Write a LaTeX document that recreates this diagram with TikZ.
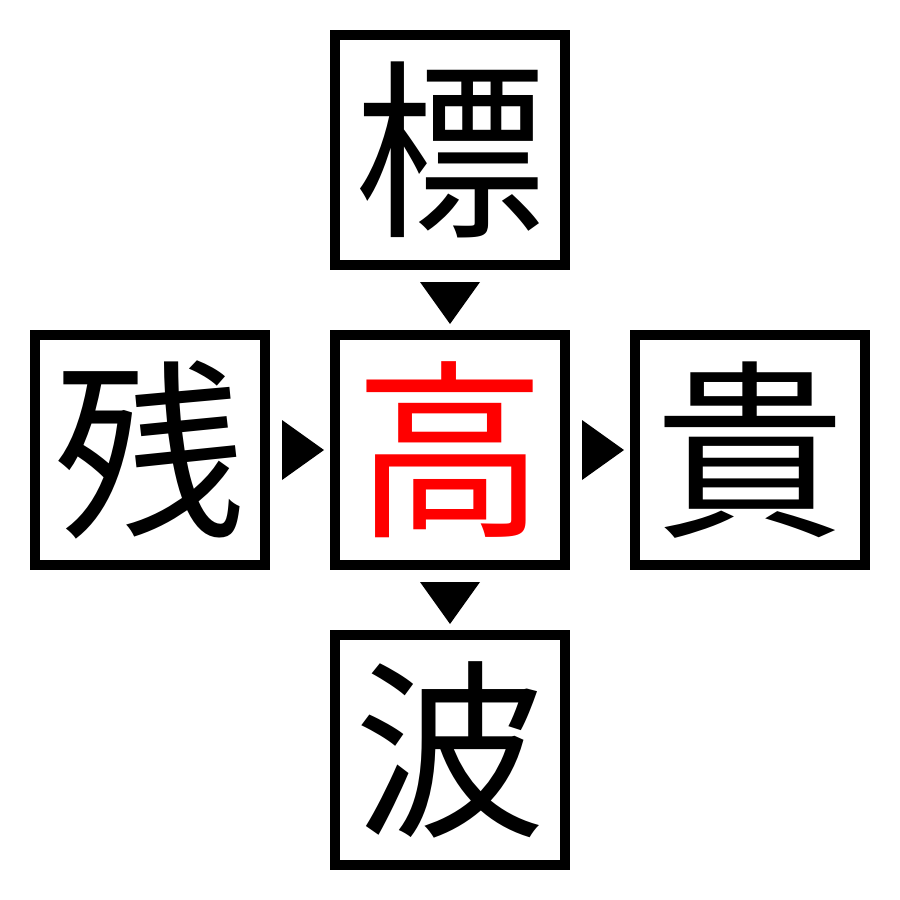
\documentclass[tikz,border=0pt]{standalone}
\usepackage{fontspec}
\newfontfamily\cjk{Noto Sans CJK JP}
\begin{document}
\begin{tikzpicture}[x=1bp,y=-1bp,
  kbox/.style={draw=black,line width=10bp,minimum width=230bp,minimum height=230bp,inner sep=0pt,outer sep=0pt,
    font=\cjk\fontsize{192}{192}\selectfont},
  tri/.style={fill=black,draw=none}]
\useasboundingbox (0,0) rectangle (900,900);
\node[kbox] (top) at (450,150) {標};
\node[kbox] (left) at (150,450) {残};
\node[kbox,text=red] (mid) at (450,450) {高};
\node[kbox] (right) at (750,450) {貴};
\node[kbox] (bot) at (450,750) {波};
\fill[tri] (420,282) -- (480,282) -- (450,324) -- cycle;
\fill[tri] (420,582) -- (480,582) -- (450,624) -- cycle;
\fill[tri] (282,420) -- (282,480) -- (324,450) -- cycle;
\fill[tri] (582,420) -- (582,480) -- (624,450) -- cycle;
\end{tikzpicture}
\end{document}
